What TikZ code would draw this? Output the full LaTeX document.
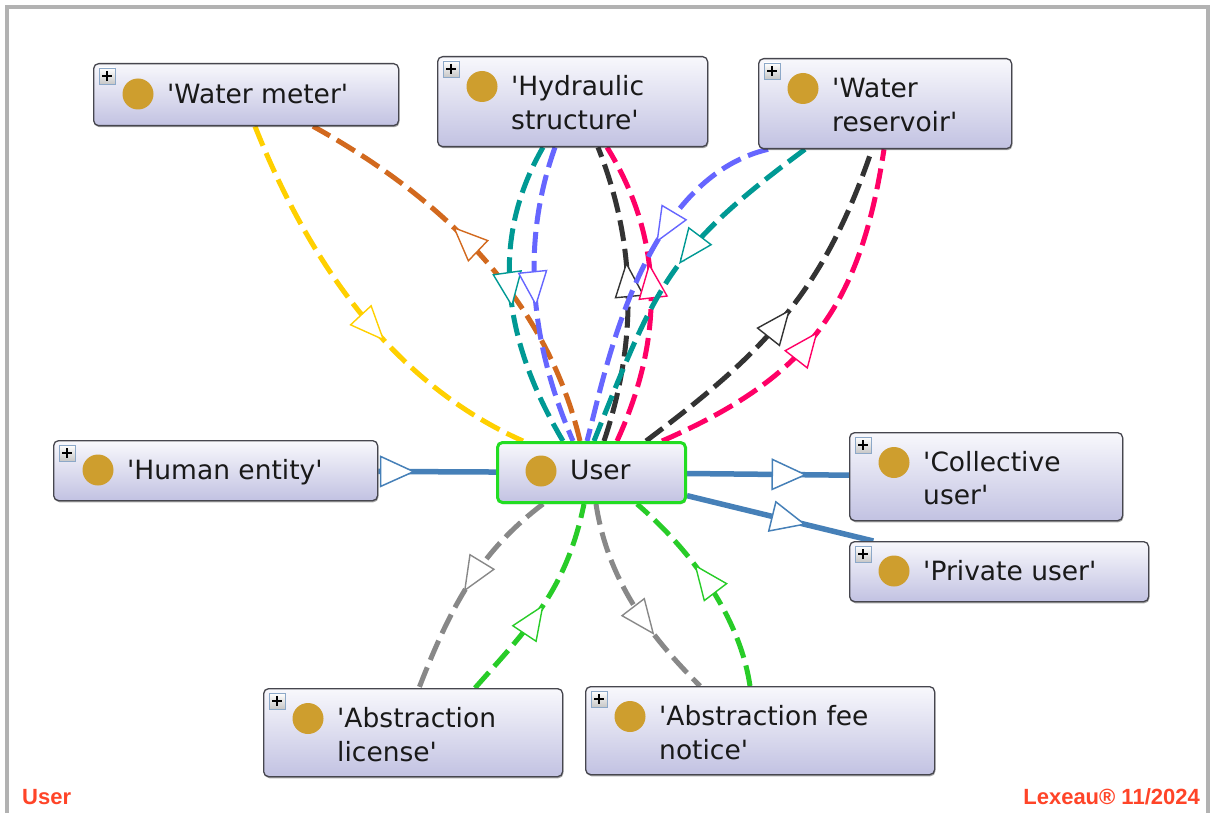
\documentclass[tikz,border=0pt]{standalone}
\usepackage{fontspec}
\setmainfont{DejaVu Sans}[Ligatures=TeXOff]
\newfontfamily\footfont{Liberation Sans}
\usetikzlibrary{calc,decorations.markings,shadows,backgrounds}
\definecolor{boxtop}{RGB}{248,248,252}
\definecolor{boxbot}{RGB}{194,194,226}
\definecolor{bordercol}{RGB}{70,70,78}
\definecolor{dotcol}{RGB}{206,158,46}
\definecolor{usergreen}{RGB}{34,221,34}
\definecolor{stblue}{RGB}{70,128,184}
\definecolor{cyel}{RGB}{255,208,0}
\definecolor{cbrown}{RGB}{210,105,30}
\definecolor{cteal}{RGB}{0,153,148}
\definecolor{cblue}{RGB}{102,102,255}
\definecolor{cblack}{RGB}{51,51,51}
\definecolor{cpink}{RGB}{255,0,102}
\definecolor{cgray}{RGB}{136,136,136}
\definecolor{cgreen}{RGB}{40,204,40}
\definecolor{footred}{RGB}{255,68,40}
\definecolor{framegray}{RGB}{178,178,178}
\definecolor{icbd}{RGB}{140,168,200}
\definecolor{txt}{RGB}{25,25,25}
\newcommand\classicon[1]{%
  \draw[draw=icbd, line width=0.8pt, top color=white, bottom color=black!22] ($(#1.north west)+(6,5)$) rectangle ++(16,16);
  \draw[line width=2pt, black] ($(#1.north west)+(9,13)$) -- ++(10,0);
  \draw[line width=2pt, black] ($(#1.north west)+(14,8)$) -- ++(0,10);
}
\newcommand\classdot[2]{%
  \fill[dotcol] ($(#1.north west)+(45,#2)$) circle (15.5pt);
}
\begin{document}
\begin{tikzpicture}[x=1pt,y=-1pt,
  cls/.style={draw=bordercol, line width=1.3pt, rounded corners=5pt, top color=boxtop, bottom color=boxbot, anchor=north west, inner sep=0pt,
    drop shadow={shadow xshift=0.8pt, shadow yshift=-1.6pt, opacity=0.35, fill=black}},
  lbl/.style={anchor=base west, inner sep=0pt, text=txt, font=\fontsize{26.5}{32}\selectfont},
  foot/.style={inner sep=0pt, text=footred, font=\footfont\bfseries\fontsize{22}{26}\selectfont},
  dedge/.style={line width=5pt, dash pattern=on 21pt off 8pt, draw=#1},
  sedge/.style={line width=5.5pt, draw=stblue},
  tri/.style 2 args={postaction={decorate, decoration={markings, mark=at position #1 with {\draw[solid, line width=1.4pt, draw=#2, fill=white] (0pt,0pt) -- (-33pt,14pt) -- (-33pt,-14pt) -- cycle;}}}},
  btri/.style={postaction={decorate, decoration={markings, mark=at position #1 with {\draw[solid, line width=1.5pt, draw=stblue, fill=white] (0pt,0pt) -- (-33pt,15pt) -- (-33pt,-15pt) -- cycle;}}}}
]
\useasboundingbox (0,0) rectangle (1212,813);
\draw[framegray, line width=4pt] (7,815) -- (7,7) -- (1208,7) -- (1208,815);

% class boxes
\node[cls, minimum width=305, minimum height=62] (wm) at (93,63) {};
\node[cls, minimum width=270, minimum height=90] (hs) at (437,56) {};
\node[cls, minimum width=253, minimum height=90] (wr) at (758,58) {};
\node[cls, minimum width=324, minimum height=60] (he) at (53,440) {};
\node[cls, draw=usergreen, line width=3pt, minimum width=188, minimum height=60] (user) at (496,441) {};
\node[cls, minimum width=273, minimum height=88] (cu) at (849,432) {};
\node[cls, minimum width=299, minimum height=60] (pu) at (849,541) {};
\node[cls, minimum width=299, minimum height=88] (al) at (263,688) {};
\node[cls, minimum width=349, minimum height=88] (af) at (585,686) {};

\foreach \n in {wm,hs,wr,he,cu,pu,al,af} {\classicon{\n}}
\classdot{wm}{31}
\classdot{hs}{30.5}
\classdot{wr}{30.5}
\classdot{he}{30}
\classdot{user}{30}
\classdot{cu}{30.5}
\classdot{pu}{30}
\classdot{al}{30.5}
\classdot{af}{30.5}

% labels
\node[lbl] (wm-t) at ($(wm.north west)+(74,40.5)$) {'Water meter'};
\node[lbl] (hs-t1) at ($(hs.north west)+(74,40)$) {'Hydraulic};
\node[lbl] (hs-t2) at ($(hs.north west)+(74,74)$) {structure'};
\node[lbl] (wr-t1) at ($(wr.north west)+(74,40)$) {'Water};
\node[lbl] (wr-t2) at ($(wr.north west)+(74,74)$) {reservoir'};
\node[lbl] (he-t) at ($(he.north west)+(74,39.5)$) {'Human entity'};
\node[lbl] (user-t) at ($(user.north west)+(74,38.5)$) {User};
\node[lbl] (cu-t1) at ($(cu.north west)+(74,39)$) {'Collective};
\node[lbl] (cu-t2) at ($(cu.north west)+(74,72)$) {user'};
\node[lbl] (pu-t) at ($(pu.north west)+(74,39.5)$) {'Private user'};
\node[lbl] (al-t1) at ($(al.north west)+(74,39)$) {'Abstraction};
\node[lbl] (al-t2) at ($(al.north west)+(74,73)$) {license'};
\node[lbl] (af-t1) at ($(af.north west)+(74,39)$) {'Abstraction fee};
\node[lbl] (af-t2) at ($(af.north west)+(74,73)$) {notice'};

% footer
\node[foot, anchor=base west] (f1) at (22,804) {User};
\node[foot, anchor=base east] (f2) at (1200,804) {Lexeau® 11/2024};

\begin{scope}[on background layer]
\fill[white] (0,0) rectangle (1212,813);
% water meter
\draw[dedge=cyel, tri={0.59}{cyel}] ($(wm.south west)+(162,0)$) .. controls (318,285) and (408,390) .. ($(user.north west)+(27,0)$);
\draw[dedge=cbrown, tri={0.59}{cbrown}] ($(user.north west)+(84,0)$) .. controls (550,314) and (461,208) .. ($(wm.south west)+(220,0)$);
% hydraulic structure
\draw[dedge=cteal, tri={0.53}{cteal}] ($(hs.south west)+(106,0)$) .. controls (492,236) and (499,333) .. ($(user.north west)+(67,0)$);
\draw[dedge=cblue, tri={0.53}{cblue}] ($(hs.south west)+(118,0)$) .. controls (522,240) and (528,338) .. ($(user.north west)+(77,0)$);
\draw[dedge=cblack, tri={0.60}{cblack}] ($(user.north west)+(108,0)$) .. controls (638,340) and (636,243) .. ($(hs.south west)+(161,0)$);
\draw[dedge=cpink, tri={0.59}{cpink}] ($(user.north west)+(121,0)$) .. controls (666,334) and (662,236) .. ($(hs.south west)+(170,0)$);
% water reservoir
\draw[dedge=cblue, tri={0.41}{cblue}] ($(wr.south west)+(10,0)$) .. controls (640,180) and (605,375) .. ($(user.north west)+(91,0)$);
\draw[dedge=cteal, tri={0.46}{cteal}] ($(wr.south west)+(47,0)$) .. controls (669,250) and (657,283) .. ($(user.north west)+(98,0)$);
\draw[dedge=cblack, tri={0.515}{cblack}] ($(user.north west)+(150,0)$) .. controls (766,351) and (824,291) .. ($(wr.south west)+(114,0)$);
\draw[dedge=cpink, tri={0.49}{cpink}] ($(user.north west)+(166,0)$) .. controls (809,377) and (860,306) .. ($(wr.south west)+(126,0)$);
% abstraction license / fee notice
\draw[dedge=cgray, tri={0.52}{cgray}] ($(user.south west)+(47,0)$) .. controls (481,551) and (452,603) .. ($(al.north west)+(156,0)$);
\draw[dedge=cgreen, tri={0.49}{cgreen}] ($(al.north west)+(212,0)$) .. controls (528,628) and (566,591) .. ($(user.south west)+(88,0)$);
\draw[dedge=cgray, tri={0.67}{cgray}] ($(user.south west)+(100,0)$) .. controls (608,582) and (651,637) .. ($(af.north west)+(115,0)$);
\draw[dedge=cgreen, tri={0.61}{cgreen}] ($(af.north west)+(165,0)$) .. controls (739,612) and (686,546) .. ($(user.south west)+(141,0)$);
% subclass links
\draw[sedge, btri=0.30] (he) -- (user);
\draw[sedge, btri=0.73] (user) -- (cu);
\draw[sedge, btri=0.63] (user) -- (pu);
\end{scope}
\end{tikzpicture}
\end{document}
